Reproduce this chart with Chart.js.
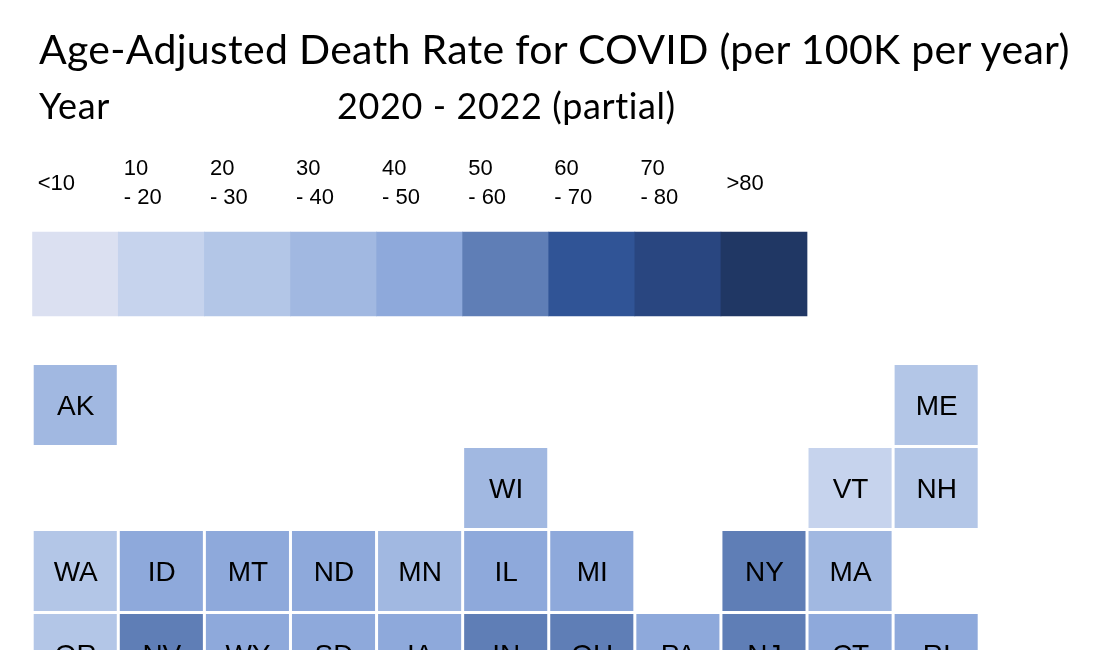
<!DOCTYPE html>
<html>
<head>
<meta charset="utf-8">
<style>
html, body { margin: 0; padding: 0; background: #fff; overflow: hidden; }
#wrap { position: relative; width: 1098px; height: 650px; overflow: hidden; }
canvas { position: absolute; left: 0; top: 0; }
.head { position: absolute; font-family: Lato, sans-serif; color: #000; white-space: nowrap; line-height: 1; }
</style>
<script src="https://cdn.jsdelivr.net/npm/chart.js@4"></script>
</head>
<body>
<div id="wrap">
    <canvas id="mapChart" width="1098" height="650"></canvas>
    <div class="head" style="left:39px;top:28px;font-size:41px;letter-spacing:0.3px">Age-Adjusted Death Rate for COVID (per 100K per year)</div>
    <div class="head" style="left:39px;top:87px;font-size:36px;letter-spacing:0.6px">Year</div>
    <div class="head" style="left:337px;top:87px;font-size:36px;letter-spacing:0.6px">2020 - 2022 (partial)</div>
</div>
<script>
const columns = ["c1", "c2", "c3", "c4", "c5", "c6", "c7", "c8", "c9", "c10", "c11"];

const binLabels = ["<10", "10\n- 20", "20\n- 30", "30\n- 40", "40\n- 50", "50\n- 60", "60\n- 70", "70\n- 80", ">80"];
const binColors = ["#DBE0F1", "#C6D3ED", "#B3C6E7", "#A1B8E1", "#8EA9DB", "#5F7EB6", "#305496", "#294680", "#203764"];

const states0 = ["AK", null, null, null, null, null, null, null, null, null, "ME"];
const rates0 = [35, null, null, null, null, null, null, null, null, null, 25];

const states1 = [null, null, null, null, null, "WI", null, null, null, "VT", "NH"];
const rates1 = [null, null, null, null, null, 35, null, null, null, 15, 25];

const states2 = ["WA", "ID", "MT", "ND", "MN", "IL", "MI", null, "NY", "MA", null];
const rates2 = [25, 45, 45, 45, 35, 45, 45, null, 55, 35, null];

const states3 = ["OR", "NV", "WY", "SD", "IA", "IN", "OH", "PA", "NJ", "CT", "RI"];
const rates3 = [25, 55, 45, 45, 45, 55, 55, 45, 55, 45, 45];

const stateRows = [states0, states1, states2, states3];
const rateRows = [rates0, rates1, rates2, rates3];

function colorFor(rate) {
    if (rate === null) return "rgba(0,0,0,0)";
    const bin = Math.min(Math.floor(rate / 10), binColors.length - 1);
    return binColors[bin];
}

const legendRow = -1.578;

const datasets = rateRows.map((rates, row) => ({
    data: rates.map(r => r === null ? null : [row - 40 / 83, row + 40 / 83]),
    backgroundColor: rates.map(colorFor),
    barPercentage: 83 / 86,
    categoryPercentage: 1,
    borderWidth: 0
}));

datasets.push({
    data: binLabels.map(() => [legendRow - 42 / 83, legendRow + 42 / 83]),
    backgroundColor: binColors,
    barPercentage: 1,
    categoryPercentage: 1,
    borderWidth: 0
});

const labelPlugin = {
    id: "cellLabels",
    afterDatasetsDraw(chart) {
        const ctx = chart.ctx;
        const x = chart.scales.x;
        const y = chart.scales.y;

        ctx.save();
        ctx.fillStyle = "#000";
        ctx.textBaseline = "middle";

        ctx.font = "28px 'Liberation Sans'";
        ctx.textAlign = "center";
        stateRows.forEach((states, row) => {
            states.forEach((state, col) => {
                if (state) {
                    ctx.fillText(state, x.getPixelForValue(col) + 0.5, y.getPixelForValue(row) + 2.5);
                }
            });
        });

        ctx.font = "22px 'Liberation Sans'";
        ctx.textAlign = "left";
        binLabels.forEach((label, col) => {
            const left = x.getPixelForValue(col) - 37.5;
            const lines = label.split("\n");
            if (lines.length === 1) {
                ctx.fillText(label, left, 184);
            } else {
                ctx.fillText(lines[0], left, 169);
                ctx.fillText(lines[1], left, 198);
            }
        });
        ctx.restore();
    }
};

new Chart(document.getElementById("mapChart"), {
    type: "bar",
    data: { labels: columns, datasets: datasets },
    plugins: [labelPlugin],
    options: {
        responsive: false,
        animation: false,
        layout: { padding: { left: 32.2, right: 118.8, top: 0, bottom: 0 } },
        plugins: {
            legend: { display: false },
            title: { display: false },
            tooltip: { enabled: false }
        },
        datasets: { bar: { grouped: false } },
        scales: {
            x: { display: false },
            y: {
                display: false,
                reverse: true,
                min: -405 / 83,
                max: 245 / 83
            }
        }
    }
});
</script>
</body>
</html>
